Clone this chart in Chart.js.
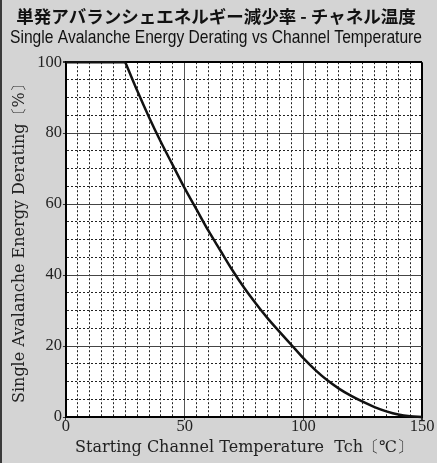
<!DOCTYPE html>
<html>
<head>
<meta charset="utf-8">
<script src="https://cdn.jsdelivr.net/npm/chart.js@4"></script>
<style>
  html, body { margin: 0; padding: 0; background: #d4d4d4; }
  #wrap { width: 437px; height: 463px; box-sizing: border-box; border-left: 2px solid #3a3a3a; }
</style>
</head>
<body>
<div id="wrap"><canvas id="chartDerating" width="435" height="463"></canvas></div>
<script>
// values, every 5 degC
const temps = [0, 5, 10, 15, 20, 25, 30, 35, 40, 45, 50, 55, 60, 65, 70, 75,
  80, 85, 90, 95, 100, 105, 110, 115, 120, 125, 130, 135, 140, 145, 150];
const derating = [100, 100, 100, 100, 100, 100, 92, 84.5, 77.5, 71, 64.5, 58.5,
  52.5, 47, 41.5, 36.5, 32, 27.8, 24, 20.3, 16.6, 13.3, 10.4, 8, 6, 4.3, 2.8, 1.6, 0.7, 0.2, 0];
const kneeTemp = 25; // end of the flat 100 % part
const xTickLabels = [0, 50, 100, 150];
const yTickLabels = [0, 20, 40, 60, 80, 100];

const serif = "'DejaVu Serif', serif";
const tickFont = { family: "'Liberation Serif', serif", size: 16.5 };

const plotBg = {
  id: "plotBg",
  beforeDraw(chart) {
    const { ctx, chartArea: a } = chart;
    ctx.save();
    ctx.fillStyle = "#ffffff";
    ctx.fillRect(a.left, a.top, a.right - a.left, a.bottom - a.top);
    ctx.restore();
  },
};

const isMajorX = (v) => xTickLabels.includes(v);
const isMajorY = (v) => yTickLabels.includes(v);

const points = temps.map((t, i) => ({ x: t, y: derating[i] }));
const flatPart = points.filter((p) => p.x <= kneeTemp);
const curvePart = points.filter((p) => p.x >= kneeTemp);

const lineStyle = {
  borderColor: "#111",
  borderWidth: 2.5,
  pointRadius: 0,
  clip: 4,
};

const configDerating = {
  type: "line",
  data: {
    datasets: [
      { ...lineStyle, data: flatPart, tension: 0 },
      { ...lineStyle, data: curvePart, cubicInterpolationMode: "monotone" },
    ],
  },
  options: {
    responsive: false,
    animation: false,
    layout: { padding: { left: 8, right: 15, top: 2, bottom: 6 } },
    plugins: {
      legend: { display: false },
      tooltip: { enabled: false },
      title: {
        display: true,
        text: "単発アバランシェエネルギー減少率 - チャネル温度",
        color: "#111",
        font: { family: "'Noto Sans CJK JP'", size: 17.5, weight: "bold" },
        padding: { top: 4, bottom: 0 },
      },
      subtitle: {
        display: true,
        text: "Single Avalanche Energy Derating vs Channel Temperature",
        color: "#111",
        font: { family: "'Liberation Sans Narrow', 'Liberation Sans', sans-serif", size: 18.5 },
        padding: { top: 0, bottom: 13 },
      },
    },
    scales: {
      x: {
        type: "linear",
        min: 0,
        max: 150,
        ticks: {
          stepSize: 5,
          autoSkip: false,
          maxRotation: 0,
          padding: -3,
          color: "#222",
          font: tickFont,
          callback: (v) => (isMajorX(v) ? v : ""),
        },
        grid: {
          color: (c) => (c.tick && c.tick.value === 150 ? "#000" : isMajorX(c.tick && c.tick.value) ? "#555" : "#222"),
          lineWidth: (c) => (c.tick && c.tick.value === 150 ? 2 : 1),
          tickLength: 3,
          tickColor: (c) => (isMajorX(c.tick && c.tick.value) ? "#333" : "rgba(0,0,0,0)"),
        },
        border: {
          color: "#000",
          width: 2,
          dash: (c) => (c.tick && !isMajorX(c.tick.value) ? [2, 2] : []),
        },
        title: {
          display: true,
          text: "Starting Channel Temperature  Tch〔℃〕",
          color: "#222",
          font: { family: serif, size: 16 },
          padding: { top: 4, bottom: 0 },
        },
      },
      y: {
        min: 0,
        max: 100,
        ticks: {
          stepSize: 5,
          autoSkip: false,
          padding: 1,
          color: "#222",
          font: tickFont,
          callback: (v) => (isMajorY(v) ? v : ""),
        },
        grid: {
          color: (c) => (c.tick && c.tick.value === 100 ? "#000" : isMajorY(c.tick && c.tick.value) ? "#444" : "#222"),
          lineWidth: (c) => (c.tick && c.tick.value === 100 ? 2 : 1),
          tickLength: 3,
          tickColor: (c) => (isMajorY(c.tick && c.tick.value) ? "#333" : "rgba(0,0,0,0)"),
        },
        border: {
          color: "#000",
          width: 2,
          dash: (c) => (c.tick && !isMajorY(c.tick.value) ? [2, 2] : []),
        },
        title: {
          display: true,
          text: "Single Avalanche Energy Derating〔%〕",
          color: "#222",
          font: { family: serif, size: 16 },
          padding: { top: 0, bottom: 7 },
        },
      },
    },
  },
  plugins: [plotBg],
};

const chartDerating = new Chart(document.getElementById("chartDerating"), configDerating);
</script>
</body>
</html>
